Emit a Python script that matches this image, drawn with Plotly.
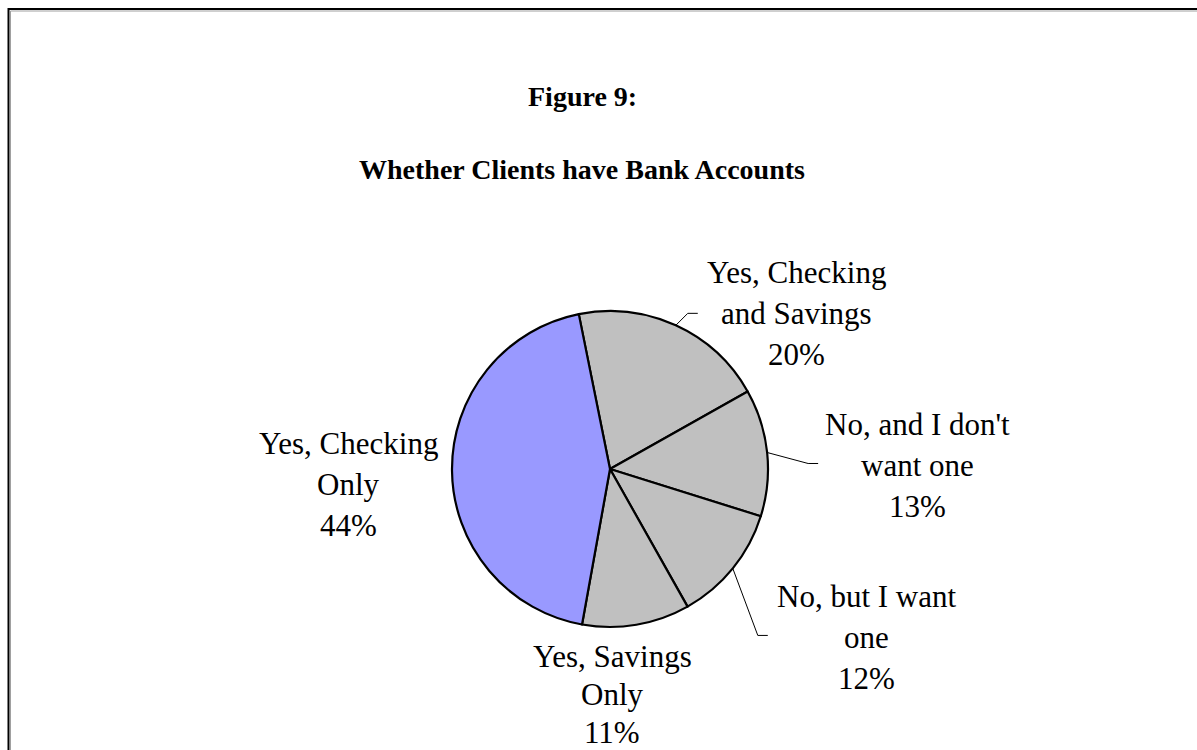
import math
import plotly.graph_objects as go

# ---- data ----
categories = ["Yes, Checking and Savings", "No, and I don't want one",
              "No, but I want one", "Yes, Savings Only", "Yes, Checking Only"]
values = [20, 13, 12, 11, 44]
label_lines = [["Yes, Checking", "and Savings"], ["No, and I don't", "want one"],
               ["No, but I want", "one"], ["Yes, Savings", "Only"], ["Yes, Checking", "Only"]]
title_lines = ["Figure 9:", "Whether Clients have Bank Accounts"]

# ---- styling / layout ----
W, H = 1197, 750
CX, CY, R = 610, 469, 158
ROT = -11.4
slice_colors = ["#C0C0C0", "#C0C0C0", "#C0C0C0", "#C0C0C0", "#9999FF"]
FONT = "Liberation Serif"
LABEL_SIZE = 31
TITLE_SIZE = 28
# label block centre (middle line) relative to pie centre, in px
label_offsets = [(186, -156), (307, -4), (256, 168), (2, 225), (-262, 15)]
label_gaps = [41, 41, 41, 38, 41]
# leader line: elbow offset from slice edge, then horizontal run (None = no leader)
leaders = [((12, -12), 10), ((41, 11), 10), ((25, 67), 10), None, None]


def px(x):
    return x / W


def py(y):
    return 1 - y / H


fig = go.Figure()
fig.add_trace(go.Pie(
    labels=categories, values=values, sort=False, direction="clockwise",
    rotation=ROT, textinfo="none", hoverinfo="label+percent", showlegend=False,
    marker=dict(colors=slice_colors, line=dict(color="black", width=2.2)),
    domain=dict(x=[px(CX - R), px(CX + R)], y=[py(CY + R), py(CY - R)]),
))

annotations = []
shapes = []
total = sum(values)
start = ROT
for i, v in enumerate(values):
    frac = v / total
    mid = start + frac * 180
    start += frac * 360
    a = math.radians(mid)
    ex, ey = CX + R * math.sin(a), CY - R * math.cos(a)
    pct = f"{round(frac * 100)}%"
    lines = label_lines[i] + [pct]
    lx, ly = CX + label_offsets[i][0], CY + label_offsets[i][1]
    for j, t in enumerate(lines):
        annotations.append(dict(
            x=px(lx), y=py(ly + (j - 1) * label_gaps[i]), xref="paper", yref="paper",
            text=t, showarrow=False, xanchor="center", yanchor="middle",
            font=dict(family=FONT, size=LABEL_SIZE, color="black")))
    if leaders[i] is not None:
        (dx, dy), run = leaders[i]
        bx, by = ex + dx, ey + dy
        shapes.append(dict(type="path", xref="paper", yref="paper",
                           path=f"M {px(ex)} {py(ey)} L {px(bx)} {py(by)} L {px(bx + run)} {py(by)}",
                           line=dict(color="black", width=1)))

# titles
for t, y in zip(title_lines, [97, 169]):
    annotations.append(dict(
        x=px(582), y=py(y), xref="paper", yref="paper", text=f"<b>{t}</b>",
        showarrow=False, xanchor="center", yanchor="middle",
        font=dict(family=FONT, size=TITLE_SIZE, color="black")))

# frame (gray shadow + black line)
shapes.append(dict(type="rect", xref="paper", yref="paper",
                   x0=px(10.5), y0=-0.05, x1=1.05, y1=py(11),
                   line=dict(color="#A0A0A0", width=1)))
shapes.append(dict(type="rect", xref="paper", yref="paper",
                   x0=px(8.5), y0=-0.05, x1=1.05, y1=py(9),
                   line=dict(color="black", width=2)))

fig.update_layout(
    width=W, height=H, margin=dict(l=0, r=0, t=0, b=0),
    paper_bgcolor="white", plot_bgcolor="white",
    annotations=annotations, shapes=shapes,
)
fig.write_html("out.html")
